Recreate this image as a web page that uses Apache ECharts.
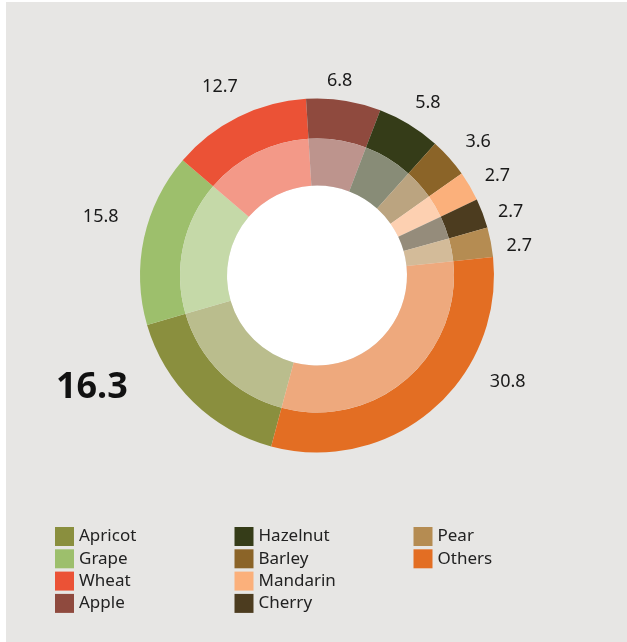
<!DOCTYPE html>
<html>
<head>
<meta charset="utf-8">
<script src="https://cdn.jsdelivr.net/npm/echarts@6/dist/echarts.min.js"></script>
<style>
  html, body { margin: 0; padding: 0; background: #ffffff; }
  #panel { position: absolute; left: 6px; top: 2px; width: 621px; height: 640px; background: #e7e6e4; }
  #chart { position: absolute; left: 0; top: 0; width: 627px; height: 642px; }
</style>
</head>
<body>
<div id="panel"></div>
<div id="chart"></div>
<script>
// Crop shares
const categories = ['Apricot', 'Grape', 'Wheat', 'Apple', 'Hazelnut', 'Barley', 'Mandarin', 'Cherry', 'Pear', 'Others'];
const shares = [16.3, 15.8, 12.7, 6.8, 5.8, 3.6, 2.7, 2.7, 2.7, 30.8];
const colors = ['#8a8f3e', '#9dbf6c', '#eb5236', '#8f4a3e', '#353c18', '#8b6428', '#fbb07b', '#4c3c1f', '#b58c52', '#e36e23'];

// Legend columns
const legendCol1 = ['Apricot', 'Grape', 'Wheat', 'Apple'];
const legendCol2 = ['Hazelnut', 'Barley', 'Mandarin', 'Cherry'];
const legendCol3 = ['Pear', 'Others'];

const CENTER = [317, 275.5];
const FONT = '"Noto Sans", "Open Sans", sans-serif';

// nudges for the value labels around the ring
const labelNudge = {
  Apricot: [-79, -37], Grape: [-12, -14], Wheat: [-4, -1], Apple: [-9, 12],
  Hazelnut: [2, 6], Barley: [5, 5], Mandarin: [0, 6], Cherry: [-2, 10],
  Pear: [-3, 10], Others: [55, -53]
};

// blend a hex colour towards white
function tint(hex, t) {
  const n = parseInt(hex.slice(1), 16);
  const r = (n >> 16) & 255, g = (n >> 8) & 255, b = n & 255;
  const m = v => Math.round(v + (255 - v) * t);
  return 'rgb(' + m(r) + ',' + m(g) + ',' + m(b) + ')';
}

const outerData = categories.map((name, i) => ({ name, value: shares[i], itemStyle: { color: colors[i] } }));
const innerData = categories.map((name, i) => ({ name, value: shares[i], itemStyle: { color: tint(colors[i], 0.41) } }));
const labelData = categories.map((name, i) => {
  const d = { name, value: shares[i], label: { offset: labelNudge[name] } };
  if (name === 'Apricot') {
    Object.assign(d.label, { fontSize: 36, fontWeight: 'bold', color: '#111' });
  }
  return d;
});

const startAngle = 255;

function legend(left, names) {
  return {
    orient: 'vertical', left: left, top: 527, padding: 0,
    itemWidth: 19, itemHeight: 19, itemGap: 3.3, icon: 'rect',
    data: names, selectedMode: false,
    textStyle: { fontFamily: FONT, fontSize: 17, color: '#222', padding: [2, 0, 0, 0] }
  };
}

const chart = echarts.init(document.getElementById('chart'), null, { renderer: 'canvas' });
chart.setOption({
  animation: false,
  textStyle: { fontFamily: FONT },
  legend: [legend(55, legendCol1), legend(234.5, legendCol2), legend(413.5, legendCol3)],
  graphic: [{
    type: 'circle', silent: true, z: 0,
    shape: { cx: CENTER[0], cy: CENTER[1], r: 90 },
    style: { fill: '#ffffff' }
  }],
  series: [
    {
      type: 'pie', name: 'outer', center: CENTER, radius: [137, 177],
      startAngle: startAngle, clockwise: true, silent: true,
      label: { show: false }, labelLine: { show: false },
      emphasis: { disabled: true },
      data: outerData
    },
    {
      type: 'pie', name: 'inner', center: CENTER, radius: [90, 137],
      startAngle: startAngle, clockwise: true, silent: true,
      label: { show: false }, labelLine: { show: false },
      emphasis: { disabled: true },
      data: innerData
    },
    {
      type: 'pie', name: 'values', center: CENTER, radius: [190, 222],
      startAngle: startAngle, clockwise: true, silent: true,
      itemStyle: { color: 'rgba(0,0,0,0)' },
      avoidLabelOverlap: false,
      label: {
        show: true, position: 'inside', formatter: '{c}',
        fontFamily: FONT, fontSize: 18, color: '#1a1a1a'
      },
      labelLine: { show: false },
      emphasis: { disabled: true },
      data: labelData
    }
  ]
});
</script>
</body>
</html>
